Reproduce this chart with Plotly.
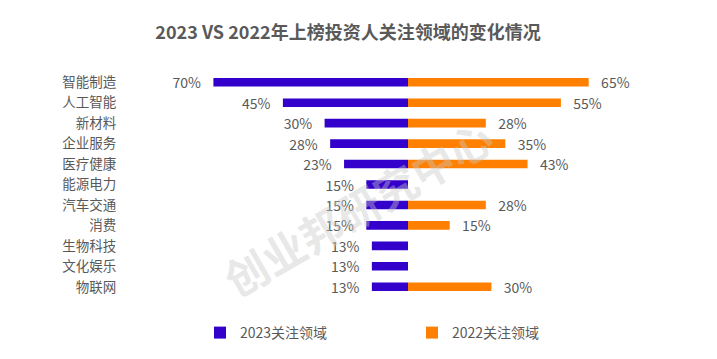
import plotly.graph_objects as go

categories = ["智能制造", "人工智能", "新材料", "企业服务", "医疗健康", "能源电力",
              "汽车交通", "消费", "生物科技", "文化娱乐", "物联网"]
values_2023 = [70, 45, 30, 28, 23, 15, 15, 15, 13, 13, 13]
values_2022 = [65, 55, 28, 35, 43, None, 28, 15, None, None, 30]
series_names = ["2023关注领域", "2022关注领域"]
title_text = "2023 VS 2022年上榜投资人关注领域的变化情况"
watermark_text = "创业邦研究中心"

FONT = "Microsoft YaHei, Noto Sans CJK SC, sans-serif"
GREY = "#595959"
PAD = "\u00a0\u00a0\u00a0"

L, R, T, B = 130, 31, 72, 62
W, H = 717, 359
pw, ph = W - L - R, H - T - B

fig = go.Figure()
fig.add_trace(go.Bar(
    y=categories,
    x=[-v for v in values_2023],
    orientation="h",
    name=series_names[0],
    marker=dict(color="#3300CC", line=dict(width=0)),
    text=[f"{v}%{PAD}" for v in values_2023],
    textposition="outside",
    constraintext="none",
    textfont=dict(size=14, color=GREY, family=FONT),
    cliponaxis=False,
    width=0.42,
))
fig.add_trace(go.Bar(
    y=categories,
    x=values_2022,
    orientation="h",
    name=series_names[1],
    marker=dict(color="#FF8000", line=dict(width=0)),
    text=[f"{PAD}{v}%" if v is not None else "" for v in values_2022],
    textposition="outside",
    constraintext="none",
    textfont=dict(size=14, color=GREY, family=FONT),
    cliponaxis=False,
    width=0.42,
))

fig.add_annotation(
    text=f"<b>{watermark_text}</b>", x=(357 - L) / pw, y=1 - (207 - T) / ph,
    xref="paper", yref="paper",
    showarrow=False, textangle=-30,
    font=dict(size=43, color="rgba(200,200,200,0.42)", family=FONT),
)

fig.update_layout(
    width=W, height=H,
    margin=dict(l=L, r=R, t=T, b=B, autoexpand=False),
    paper_bgcolor="white", plot_bgcolor="white",
    barmode="overlay",
    title=dict(text=f"<b>{title_text}</b>", x=348 / W, xanchor="center",
               y=1 - 33 / H, yanchor="middle",
               font=dict(size=18, color=GREY, family=FONT)),
    xaxis=dict(range=[-100, 100], showgrid=False, zeroline=False,
               showticklabels=False, fixedrange=True, automargin=False),
    yaxis=dict(autorange="reversed", showgrid=False, zeroline=False,
               showline=False, ticks="outside", ticklen=10,
               tickcolor="rgba(0,0,0,0)", automargin=False,
               tickfont=dict(size=13.5, color=GREY, family=FONT)),
    legend=dict(orientation="h", x=(200 - L) / pw, xanchor="left",
                y=-(333 - (H - B)) / ph, yanchor="middle",
                entrywidth=167, entrywidthmode="pixels",
                font=dict(size=14, color=GREY, family=FONT),
                itemsizing="constant", itemwidth=30),
    showlegend=True,
)

fig.write_html("out.html", config={"displayModeBar": False},
               post_script="document.body.style.margin='0';")
